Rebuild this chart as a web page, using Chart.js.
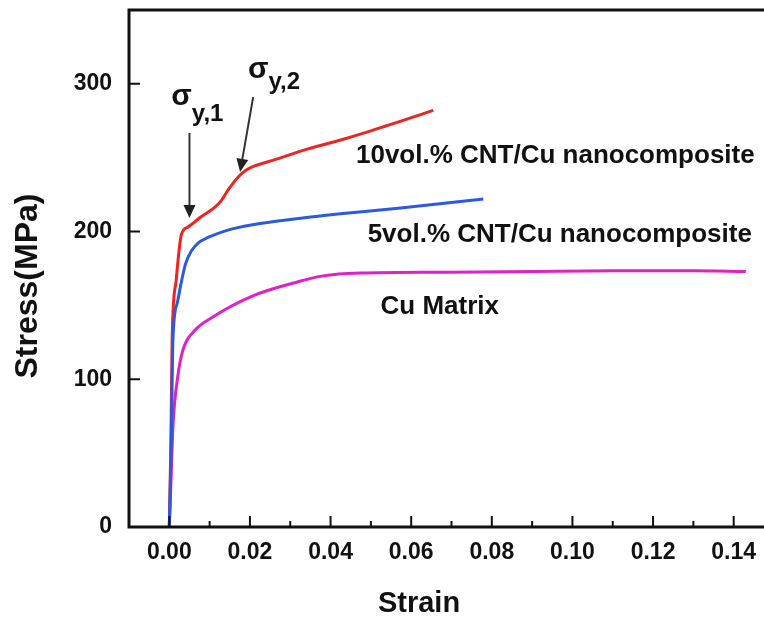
<!DOCTYPE html>
<html>
<head>
<meta charset="utf-8">
<title>Stress-strain curves, CNT/Cu nanocomposites</title>
<script src="https://cdn.jsdelivr.net/npm/chart.js@4.4.1/dist/chart.umd.min.js"></script>
<style>
    html, body { margin: 0; padding: 0; background: #fff; overflow: hidden; }
    #wrap { position: absolute; left: 0; top: 0; width: 800px; height: 621px; }
</style>
</head>
<body>
<div id="wrap"><canvas id="cvStress" width="800" height="621"></canvas></div>
<script>
// values: strain (-) vs stress (MPa)
const cuStrain = [0, 0.0004, 0.0009, 0.0021, 0.0034, 0.0063, 0.0104, 0.0203, 0.0326, 0.037, 0.042, 0.049, 0.070, 0.090, 0.110, 0.130, 0.143];
const cuStress = [0, 30, 68, 102, 120, 133, 141.5, 156, 166.5, 169.5, 171.3, 172, 172.5, 173, 173.5, 173.5, 173];

const cnt5Strain = [0, 0.0005, 0.0009, 0.002, 0.003, 0.004, 0.0055, 0.0075, 0.0096, 0.0145, 0.0203, 0.0326, 0.0425, 0.0574, 0.0779];
const cnt5Stress = [0, 60, 127, 152, 166, 178, 187, 193, 196, 201, 204.5, 209, 212, 216, 222];

const cnt10Strain = [0, 0.0004, 0.0007, 0.0017, 0.003, 0.0046, 0.0079, 0.0111, 0.0129, 0.0148, 0.0171, 0.019, 0.0203, 0.026, 0.0344, 0.0425, 0.0492, 0.0655];
const cnt10Stress = [0, 60, 127, 167, 198, 203, 210, 216, 221, 229, 237, 241.5, 243.5, 248.5, 256, 262, 267.5, 282];

const seriesNames = ["10vol.% CNT/Cu nanocomposite", "5vol.% CNT/Cu nanocomposite", "Cu Matrix"];

const xTicks = [0, 0.02, 0.04, 0.06, 0.08, 0.10, 0.12, 0.14];
const xMinorTicks = [-0.01, 0.01, 0.03, 0.05, 0.07, 0.09, 0.11, 0.13];
const yTicks = [0, 100, 200, 300];

(function (window, document) {
    "use strict";

    const FONT = "'Liberation Sans', Arial, sans-serif";
    const INK = "#111";
    const COLORS = { cnt10: "#ee2420", cnt5: "#2a5ae0", cu: "#e020c8" };

    // annotation anchors, in data units
    const NOTES = {
        labels: [
            { text: seriesNames[0], x: 0.0463, y: 251 },
            { text: seriesNames[1], x: 0.0492, y: 197.7 },
            { text: seriesNames[2], x: 0.0524, y: 149 }
        ],
        sigma: [
            { sub: "y,1", x: 0.0005, y: 285.7, subY: 275 },
            { sub: "y,2", x: 0.0195, y: 304, subY: 296.5 }
        ],
        arrows: [
            { from: [0.005, 266.8], to: [0.005, 209.2] },
            { from: [0.0208, 291], to: [0.01756, 240.4] }
        ]
    };

    const toPoints = (xs, ys) => xs.map((v, i) => ({ x: v, y: ys[i] }));

    // keep the plot box exactly where the axes put it (no label overhang padding)
    const noOverhang = s => { s.paddingTop = 0; s.paddingBottom = 0; s.paddingLeft = 0; s.paddingRight = 0; };

    /* ---------------- frame + inward ticks ---------------- */
    const frameAndTicks = {
        id: "frameAndTicks",
        afterDraw(chart) {
            const { ctx, chartArea: a, scales: { x, y } } = chart;
            ctx.save();
            ctx.strokeStyle = INK;
            ctx.lineWidth = 2;
            ctx.beginPath();
            xTicks.forEach(v => {
                const px = x.getPixelForValue(v);
                ctx.moveTo(px, a.bottom); ctx.lineTo(px, a.bottom - 11);
            });
            xMinorTicks.forEach(v => {
                const px = x.getPixelForValue(v);
                ctx.moveTo(px, a.bottom); ctx.lineTo(px, a.bottom - 6);
            });
            yTicks.forEach(v => {
                const py = y.getPixelForValue(v);
                ctx.moveTo(a.left, py); ctx.lineTo(a.left + 11, py);
            });
            ctx.stroke();
            ctx.lineWidth = 3;
            ctx.strokeRect(a.left, a.top, a.right - a.left, a.bottom - a.top);
            ctx.restore();
        }
    };

    /* ---------------- text, sigma marks, arrows ---------------- */
    const notes = {
        id: "notes",
        afterDraw(chart) {
            const { ctx, chartArea: a, scales: { x, y } } = chart;
            ctx.save();
            ctx.fillStyle = INK;

            // axis titles
            ctx.textAlign = "center";
            ctx.textBaseline = "middle";
            ctx.font = `bold 29px ${FONT}`;
            ctx.fillText("Strain", a.left + 290, chart.height - 17);
            ctx.save();
            ctx.translate(28, a.top + 276);
            ctx.rotate(-Math.PI / 2);
            ctx.font = `bold 32px ${FONT}`;
            ctx.fillText("Stress(MPa)", 0, 0);
            ctx.restore();

            // curve labels
            ctx.textAlign = "left";
            ctx.font = `bold 26px ${FONT}`;
            NOTES.labels.forEach(l => ctx.fillText(l.text, x.getPixelForValue(l.x), y.getPixelForValue(l.y)));

            // yield points
            ctx.textBaseline = "alphabetic";
            NOTES.sigma.forEach(s => {
                const px = x.getPixelForValue(s.x);
                ctx.font = `bold 30px ${FONT}`;
                ctx.fillText("\u03c3", px, y.getPixelForValue(s.y));
                const w = ctx.measureText("\u03c3").width;
                ctx.font = `bold 24px ${FONT}`;
                ctx.fillText(s.sub, px + w, y.getPixelForValue(s.subY));
            });

            // arrows
            ctx.strokeStyle = "#333";
            ctx.fillStyle = "#222";
            ctx.lineWidth = 2;
            NOTES.arrows.forEach(ar => {
                const x0 = x.getPixelForValue(ar.from[0]), y0 = y.getPixelForValue(ar.from[1]);
                const x1 = x.getPixelForValue(ar.to[0]), y1 = y.getPixelForValue(ar.to[1]);
                const ang = Math.atan2(y1 - y0, x1 - x0);
                const len = 13, half = 6;
                const bx = x1 - len * Math.cos(ang), by = y1 - len * Math.sin(ang);
                ctx.beginPath();
                ctx.moveTo(x0, y0); ctx.lineTo(bx, by);
                ctx.stroke();
                ctx.beginPath();
                ctx.moveTo(x1, y1);
                ctx.lineTo(bx + half * Math.sin(ang), by - half * Math.cos(ang));
                ctx.lineTo(bx - half * Math.sin(ang), by + half * Math.cos(ang));
                ctx.closePath();
                ctx.fill();
            });
            ctx.restore();
        }
    };

    function line(label, pts, color, order) {
        return {
            label,
            data: pts,
            order,
            borderColor: color,
            backgroundColor: color,
            borderWidth: 3,
            pointRadius: 0,
            fill: false,
            cubicInterpolationMode: "monotone"
        };
    }

    function init() {
        const canvas = document.getElementById("cvStress");
        if (!canvas || typeof Chart === "undefined") return;

        new Chart(canvas.getContext("2d"), {
            type: "line",
            data: {
                datasets: [
                    line(seriesNames[0], toPoints(cnt10Strain, cnt10Stress), COLORS.cnt10, 1),
                    line(seriesNames[1], toPoints(cnt5Strain, cnt5Stress), COLORS.cnt5, 0),
                    line(seriesNames[2], toPoints(cuStrain, cuStress), COLORS.cu, 2)
                ]
            },
            options: {
                responsive: false,
                animation: false,
                devicePixelRatio: 1,
                layout: { padding: { top: 10, right: 26, left: 0, bottom: 0 } },
                plugins: { legend: { display: false }, tooltip: { enabled: false } },
                scales: {
                    x: {
                        type: "linear",
                        min: -0.01,
                        max: 0.15,
                        grid: { display: false, drawTicks: false },
                        border: { display: false },
                        afterBuildTicks: s => { s.ticks = xTicks.map(v => ({ value: v })); },
                        afterFit: s => { s.height = 94; noOverhang(s); },
                        ticks: {
                            padding: 12,
                            color: INK,
                            font: { family: FONT, size: 23, weight: "bold" },
                            callback: v => Number(v).toFixed(2)
                        }
                    },
                    y: {
                        min: 0,
                        max: 350,
                        grid: { display: false, drawTicks: false },
                        border: { display: false },
                        afterBuildTicks: s => { s.ticks = yTicks.map(v => ({ value: v })); },
                        afterFit: s => { s.width = 129; noOverhang(s); },
                        ticks: {
                            padding: 17,
                            color: INK,
                            font: { family: FONT, size: 23, weight: "bold" },
                            callback: v => String(v)
                        }
                    }
                }
            },
            plugins: [frameAndTicks, notes]
        });
    }

    init();
})(window, document);
</script>
</body>
</html>
